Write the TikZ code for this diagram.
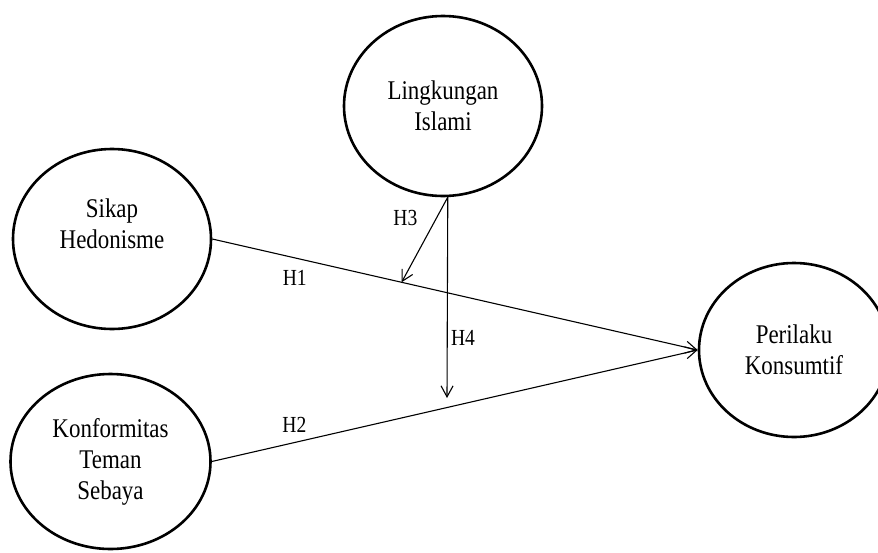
\documentclass[tikz,border=0pt]{standalone}
\usepackage{fontspec}
\setmainfont{Liberation Serif}
\newfontfamily\modelfont[FakeStretch=0.85]{Liberation Serif}
\usetikzlibrary{arrows.meta,shapes.geometric,calc}

\begin{document}
\begin{tikzpicture}[>={Straight Barb[length=11pt,width=12pt]}, x=1pt, y=-1pt, line width=1.1pt,
    latent/.style={ellipse, draw, line width=2.6pt, inner sep=0pt, align=center, font=\modelfont\fontsize{27}{31}\selectfont},
    hyp/.style={font=\modelfont\fontsize{23}{27}\selectfont}]

    \useasboundingbox (0,0) rectangle (878,552);

    \node[latent, minimum width=198pt, minimum height=180pt]   (islami)    at (443,106)    {Lingkungan\\Islami};
    \node[latent, minimum width=198pt, minimum height=180pt]   (hedon)     at (112,239)    {Sikap\\Hedonisme\\\mbox{}};
    \node[latent, minimum width=200pt, minimum height=175pt]   (konform)   at (110.5,461.5) {Konformitas\\Teman\\Sebaya};
    \node[latent, minimum width=190pt, minimum height=174pt]   (perilaku)  at (794,350)    {Perilaku\\Konsumtif};

    \coordinate (h3end) at ($(hedon.east)!0.39!(perilaku.west)$);
    \coordinate (h4end) at (447,398);

    \path[->]   (hedon.east)    edge    node[hyp, below=9pt, pos=0.17]  {H1}    (perilaku.west)
                (konform.east)  edge    node[hyp, above=6pt, pos=0.17]  {H2}    (perilaku.west)
                (islami.-87)    edge    node[hyp, left=15pt, pos=0.25]  {H3}    (h3end)
                                edge    node[hyp, right=0pt, pos=0.70]  {H4}    (h4end);
\end{tikzpicture}
\end{document}
